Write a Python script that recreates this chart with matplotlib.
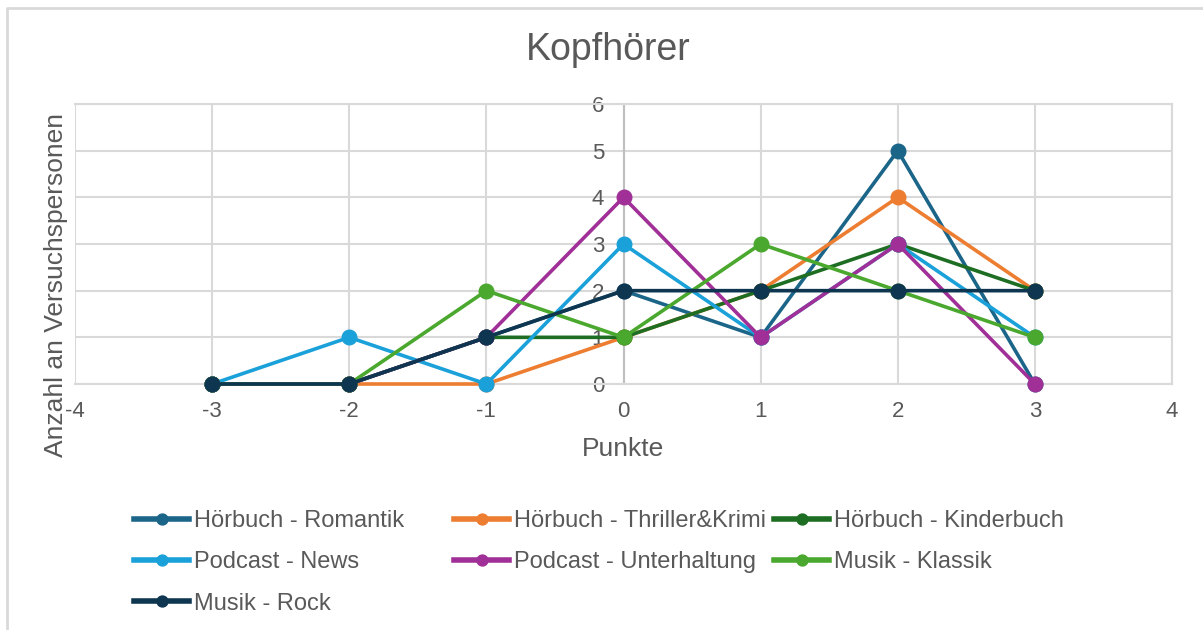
import matplotlib
matplotlib.use("Agg")
import matplotlib.pyplot as plt
from matplotlib.lines import Line2D

plt.rcParams['font.family'] = ['Liberation Sans', 'DejaVu Sans']
plt.rcParams['axes.unicode_minus'] = False

x_points = [-3, -2, -1, 0, 1, 2, 3]
series_names = ["Hörbuch - Romantik", "Hörbuch - Thriller&Krimi", "Hörbuch - Kinderbuch",
                "Podcast - News", "Podcast - Unterhaltung", "Musik - Klassik", "Musik - Rock"]
romantik = [0, 0, 1, 2, 1, 5, 0]
thriller = [0, 0, 0, 1, 2, 4, 2]
kinderbuch = [0, 0, 1, 1, 2, 3, 2]
news = [0, 1, 0, 3, 1, 3, 1]
unterhaltung = [0, 0, 1, 4, 1, 3, 0]
klassik = [0, 0, 2, 1, 3, 2, 1]
rock = [0, 0, 1, 2, 2, 2, 2]
values = [romantik, thriller, kinderbuch, news, unterhaltung, klassik, rock]
colors = ["#1b6589", "#ed7d31", "#1d6e23", "#1ba1d9", "#a03097", "#4aa82e", "#0e3650"]

x_ticks = [-4, -3, -2, -1, 0, 1, 2, 3, 4]
y_ticks = [0, 1, 2, 3, 4, 5, 6]

TXT = "#595959"
GRID = "#d9d9d9"

fig = plt.figure(figsize=(12.03, 6.30), dpi=100)
ax = fig.add_axes([75/1203, 1-384/630, (1172-75)/1203, (384-104)/630])

handles = []
for name, vals, c in zip(series_names, values, colors):
    h, = ax.plot(x_points, vals, color=c, lw=2.6, marker='o', ms=10.5,
                 label=name, zorder=3, clip_on=False)
    handles.append(h)

ax.set_xlim(-4, 4)
ax.set_ylim(0, 6)
ax.set_xticks(x_ticks)
ax.set_yticks(y_ticks)
ax.grid(True, color=GRID, lw=1.5, zorder=0)
ax.set_axisbelow(True)
for s in ['top', 'right', 'bottom']:
    ax.spines[s].set_color(GRID)
    ax.spines[s].set_linewidth(1.5)
ax.spines['left'].set_position(('data', 0))
ax.spines['left'].set_color("#bfbfbf")
ax.spines['left'].set_linewidth(1.5)
ax.spines['left'].set_zorder(1)
ax.tick_params(axis='both', length=0, labelsize=16, labelcolor=TXT)
ax.tick_params(axis='y', pad=14)
ax.tick_params(axis='x', pad=12)

ax.set_xlabel("Punkte", fontsize=19, color=TXT)
ax.xaxis.set_label_coords((623-75)/1097, -(449-384)/280)
ax.xaxis.label.set_va('center')
ax.set_ylabel("Anzahl an Versuchspersonen", fontsize=19, color=TXT)
ax.yaxis.set_label_coords((68-75)/1097, (384-285)/280)

fig.text(608/1203, 1-50/630, "Kopfhörer", fontsize=27, color=TXT, ha='center', va='center')

# legend in three columns (row-major order like reference)
col_groups = [[0, 3, 6], [1, 4], [2, 5]]
col_x = [134/1203, 454/1203, 774/1203]
for xs, idxs in zip(col_x, col_groups):
    leg = fig.legend([handles[i] for i in idxs], [series_names[i] for i in idxs],
                     loc='upper left', bbox_to_anchor=(xs, 1-510/630),
                     frameon=False, fontsize=17, labelcolor=TXT,
                     handlelength=2.35, handletextpad=0.2, labelspacing=0.82,
                     markerscale=0.75, borderpad=0, borderaxespad=0)
    for lh in leg.legend_handles:
        lh.set_linewidth(4)

# outer frame of the chart area
fig.add_artist(Line2D([7/1203, 7/1203, 1.0], [0, 1-8/630, 1-8/630],
                      transform=fig.transFigure, color=GRID, lw=2))

fig.savefig("out.png", dpi=100, facecolor='white')
